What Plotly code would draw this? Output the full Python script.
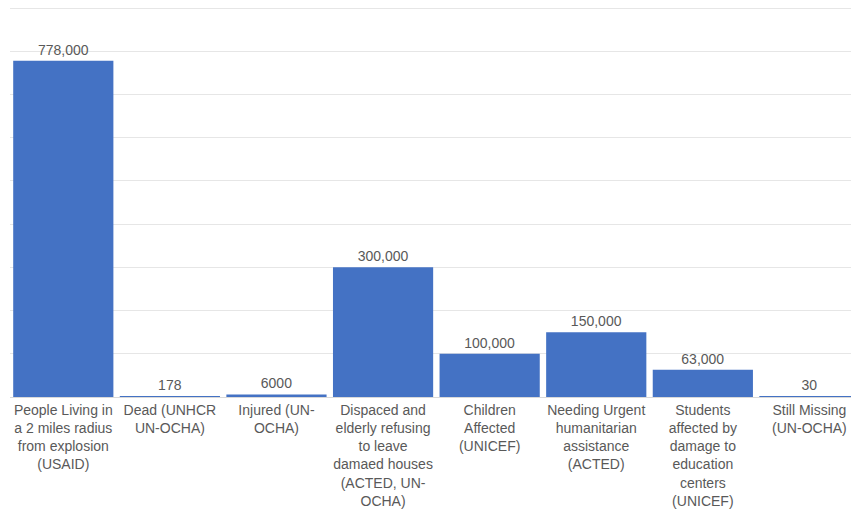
import plotly.graph_objects as go

categories = [
    "People Living in<br>a 2 miles radius<br>from explosion<br>(USAID)",
    "Dead (UNHCR<br>UN-OCHA)",
    "Injured (UN-<br>OCHA)",
    "Dispaced and<br>elderly refusing<br>to leave<br>damaed houses<br>(ACTED, UN-<br>OCHA)",
    "Children<br>Affected<br>(UNICEF)",
    "Needing Urgent<br>humanitarian<br>assistance<br>(ACTED)",
    "Students<br>affected by<br>damage to<br>education<br>centers<br>(UNICEF)",
    "Still Missing<br>(UN-OCHA)",
]
values = [778000, 178, 6000, 300000, 100000, 150000, 63000, 30]
value_labels = ["778,000", "178", "6000", "300,000", "100,000", "150,000", "63,000", "30"]

font_family = "Liberation Sans, Arial, sans-serif"
text_color = "#595959"

fig = go.Figure(
    go.Bar(
        x=list(range(len(categories))),
        y=values,
        text=value_labels,
        textposition="outside",
        textfont=dict(family=font_family, size=14, color=text_color),
        marker=dict(color="#4472C4", line=dict(width=0)),
        cliponaxis=False,
    )
)

fig.update_layout(
    width=851,
    height=529,
    margin=dict(l=10, r=0, t=7, b=132),
    plot_bgcolor="white",
    paper_bgcolor="white",
    bargap=0.06,
    showlegend=False,
    font=dict(family=font_family, size=14, color=text_color),
    xaxis=dict(
        tickmode="array",
        tickvals=list(range(len(categories))),
        ticktext=categories,
        range=[-0.5, 7.39],
        showgrid=False,
        showline=True,
        linecolor="#d9d9d9",
        linewidth=1,
        ticks="",
        ticklen=0,
        tickfont=dict(family=font_family, size=14, color=text_color),
        tickangle=0,
    ),
    yaxis=dict(
        range=[0, 902500],
        dtick=100000,
        showgrid=True,
        gridcolor="#e6e6e6",
        gridwidth=1,
        showticklabels=False,
        zeroline=False,
        showline=False,
    ),
)

fig.write_html("out.html")
